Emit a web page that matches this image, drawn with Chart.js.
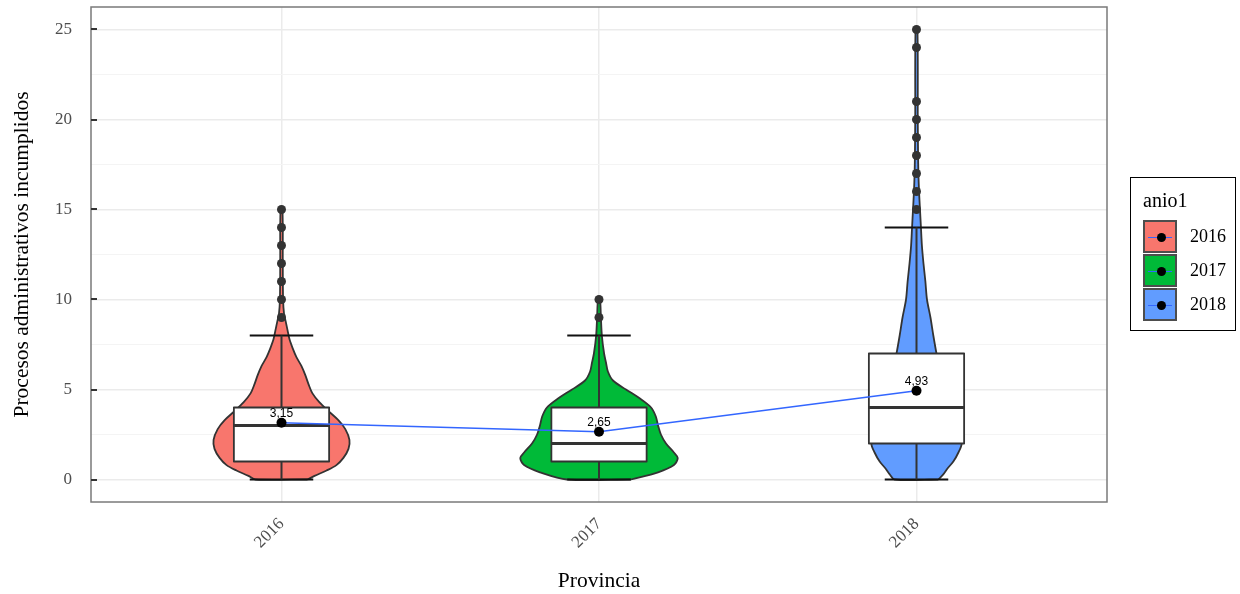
<!DOCTYPE html>
<html>
<head>
<meta charset="utf-8">
<script src="https://cdn.jsdelivr.net/npm/chart.js@4/dist/chart.umd.min.js"></script>
<style>
  html, body { margin: 0; padding: 0; background: #ffffff; }
  #wrap { position: relative; width: 1240px; height: 594px; overflow: hidden; }
  #chart { position: absolute; left: 0; top: 0; }
  #legend { position: absolute; left: 1130px; top: 177px; width: 106px; height: 154px;
            border: 1.5px solid #000; box-sizing: border-box; font-family: 'Liberation Serif', 'Times New Roman', serif; color: #000; }
  #legend .ttl { position: absolute; left: 12px; top: 11px; font-size: 20px; }
  #legend .row { position: absolute; left: 12px; height: 33px; width: 90px; }
  #legend .key { position: absolute; left: 0; top: 0; width: 34px; height: 33px; box-sizing: border-box; border: 2px solid #4d4d4d; }
  #legend .key .ln { position: absolute; left: 3px; right: 3px; top: 14.5px; height: 1.5px; background: #3366FF; }
  #legend .key .dt { position: absolute; left: 11.5px; top: 10.5px; width: 9px; height: 9px; border-radius: 50%; background: #000; }
  #legend .lab { position: absolute; left: 47px; top: 6px; font-size: 18px; }
</style>
</head>
<body>
<div id="wrap">
  <canvas id="chart" width="1240" height="594"></canvas>
  <div id="legend"></div>
</div>
<script>
// ---------------- data ----------------
const categories = ['2016', '2017', '2018'];
const q1 = [1, 1, 2];
const medians = [3, 2, 4];
const q3 = [4, 4, 7];
const whiskerLow = [0, 0, 0];
const whiskerHigh = [8, 8, 14];
const means = [3.15, 2.65, 4.93];
const meanLabels = ['3,15', '2,65', '4,93'];
const outliers2016 = [9, 10, 11, 12, 13, 14, 15];
const outliers2017 = [9, 10];
const outliers2018 = [15, 16, 17, 18, 19, 20, 21, 24, 25];
// violin outlines: value levels and half-widths (in category units)
const violinY2016 = [0, 0.2, 0.5, 0.8, 1.2, 1.7, 2.2, 2.8, 3.3, 3.8, 4.3, 4.8, 5.3, 5.8, 6.3, 6.8, 7.3, 7.8, 8.3, 8.8, 9.2, 10, 12, 15];
const violinW2016 = [0.082, 0.104, 0.142, 0.173, 0.195, 0.211, 0.214, 0.201, 0.179, 0.148, 0.119, 0.097, 0.085, 0.075, 0.063, 0.047, 0.035, 0.025, 0.019, 0.013, 0.008, 0.005, 0.004, 0.003];
const violinY2017 = [0, 0.4, 0.8, 1.2, 1.5, 2, 2.5, 3, 3.5, 4, 4.5, 5, 5.5, 6, 6.5, 7, 8, 9, 10];
const violinW2017 = [0.101, 0.186, 0.236, 0.248, 0.236, 0.211, 0.195, 0.186, 0.179, 0.164, 0.129, 0.085, 0.044, 0.028, 0.022, 0.016, 0.009, 0.006, 0.003];
const violinY2018 = [0, 0.3, 0.6, 1, 1.5, 2, 3, 4, 5, 6, 7, 8, 9, 10, 11, 12, 13, 14, 15, 16, 17, 18, 20, 25];
const violinW2018 = [0.069, 0.085, 0.097, 0.116, 0.132, 0.142, 0.126, 0.107, 0.088, 0.075, 0.063, 0.053, 0.044, 0.033, 0.028, 0.022, 0.017, 0.014, 0.011, 0.008, 0.006, 0.005, 0.004, 0.003];
const yTickValues = [0, 2.5, 5, 7.5, 10, 12.5, 15, 17.5, 20, 22.5, 25];

// ---------------- styles ----------------
const fillColors = ['#F8766D', '#00BA38', '#619CFF'];
const BOX_HALF = 0.15;
const CAP_HALF = 0.1;
const SERIF = "'Liberation Serif', 'Times New Roman', serif";

const outliers = [outliers2016, outliers2017, outliers2018];
const violinYs = [violinY2016, violinY2017, violinY2018];
const violinWs = [violinW2016, violinW2017, violinW2018];

const datasets = [];
categories.forEach((cat, i) => {
  const c = i + 1;
  // violin
  const ys = violinYs[i], ws = violinWs[i];
  const pts = [];
  ys.forEach((y, k) => pts.push({ x: c + ws[k], y }));
  for (let k = ys.length - 1; k >= 0; k--) pts.push({ x: c - ws[k], y: ys[k] });
  pts.push({ x: c + ws[0], y: ys[0] });
  datasets.push({ data: pts, borderColor: '#333333', borderWidth: 1.8, backgroundColor: fillColors[i],
    fill: 'shape', pointRadius: 0, tension: 0.3, order: 20 });
  // whisker line + caps
  datasets.push({ data: [{ x: c, y: whiskerLow[i] }, { x: c, y: whiskerHigh[i] }],
    borderColor: '#333333', borderWidth: 2, pointRadius: 0, fill: false, order: 15 });
  datasets.push({ data: [{ x: c - CAP_HALF, y: whiskerHigh[i] }, { x: c + CAP_HALF, y: whiskerHigh[i] }, { x: c, y: null },
    { x: c - CAP_HALF, y: whiskerLow[i] }, { x: c + CAP_HALF, y: whiskerLow[i] }],
    borderColor: '#111111', borderWidth: 2, pointRadius: 0, fill: false, order: 15 });
  // box
  datasets.push({ data: [{ x: c - BOX_HALF, y: q1[i] }, { x: c + BOX_HALF, y: q1[i] }, { x: c + BOX_HALF, y: q3[i] },
    { x: c - BOX_HALF, y: q3[i] }, { x: c - BOX_HALF, y: q1[i] }],
    borderColor: '#333333', borderWidth: 1.8, backgroundColor: '#ffffff', fill: 'shape', pointRadius: 0, order: 12 });
  // median
  datasets.push({ data: [{ x: c - BOX_HALF, y: medians[i] }, { x: c + BOX_HALF, y: medians[i] }],
    borderColor: '#333333', borderWidth: 3.2, pointRadius: 0, fill: false, order: 11 });
  // outliers
  datasets.push({ data: outliers[i].map(v => ({ x: c, y: v })), showLine: false,
    pointRadius: 4.5, pointBackgroundColor: '#333333', pointBorderWidth: 0, order: 10 });
});
// mean line and points
datasets.push({ data: means.map((m, i) => ({ x: i + 1, y: m })), borderColor: '#3366FF', borderWidth: 1.6,
  pointRadius: 0, fill: false, order: 5 });
datasets.push({ data: means.map((m, i) => ({ x: i + 1, y: m })), showLine: false,
  pointRadius: 5, pointBackgroundColor: '#000000', pointBorderWidth: 0, order: 4 });

const decorPlugin = {
  id: 'decor',
  afterDatasetsDraw(chart) {
    const { ctx, scales: { x, y } } = chart;
    ctx.save();
    ctx.font = "12px 'Liberation Sans', Arial, sans-serif";
    ctx.fillStyle = '#000';
    ctx.textAlign = 'center';
    ctx.textBaseline = 'middle';
    means.forEach((m, i) => {
      ctx.fillText(meanLabels[i], x.getPixelForValue(i + 1), y.getPixelForValue(m) - 9);
    });
    ctx.restore();
  },
  afterDraw(chart) {
    const { ctx, chartArea: a, scales: { y } } = chart;
    ctx.save();
    ctx.strokeStyle = '#7a7a7a';
    ctx.lineWidth = 1.5;
    ctx.strokeRect(a.left, a.top, a.right - a.left, a.bottom - a.top);
    ctx.strokeStyle = '#333333';
    ctx.lineWidth = 2;
    yTickValues.filter(v => v % 5 === 0).forEach(v => {
      const py = Math.round(y.getPixelForValue(v));
      ctx.beginPath(); ctx.moveTo(a.left, py); ctx.lineTo(a.left + 6, py); ctx.stroke();
    });
    ctx.restore();
  }
};

new Chart(document.getElementById('chart'), {
  type: 'line',
  data: { datasets },
  options: {
    responsive: false,
    animation: false,
    devicePixelRatio: 1,
    layout: { padding: { left: 0, right: 133, top: 7, bottom: 0 } },
    plugins: { legend: { display: false }, tooltip: { enabled: false } },
    elements: { line: { borderJoinStyle: 'round', borderCapStyle: 'butt' } },
    scales: {
      x: {
        type: 'linear', min: 0.4, max: 3.6,
        afterBuildTicks: s => { s.ticks = categories.map((c, i) => ({ value: i + 1 })); },
        afterFit: s => { s.height = 92; s.paddingLeft = 0; s.paddingRight = 0; },
        grid: { color: '#ebebeb', lineWidth: 1.5, drawTicks: false },
        border: { display: false },
        ticks: { callback: v => categories[v - 1], minRotation: 45, maxRotation: 45, padding: 12, labelOffset: 0,
          color: '#4d4d4d', font: { family: SERIF, size: 17 } },
        title: { display: true, text: 'Provincia', color: '#000', font: { family: SERIF, size: 21.5 }, padding: { top: 0, bottom: 0 } }
      },
      y: {
        type: 'linear', min: -1.25, max: 26.25,
        afterBuildTicks: s => { s.ticks = yTickValues.map(v => ({ value: v })); },
        afterFit: s => { s.width = 91; s.paddingTop = 0; s.paddingBottom = 0; },
        grid: { color: c => (c.tick && c.tick.value % 5 === 0 ? '#ebebeb' : '#f4f4f4'), lineWidth: c => (c.tick && c.tick.value % 5 === 0 ? 1.5 : 1), drawTicks: false },
        border: { display: false },
        ticks: { callback: v => (v % 5 === 0 ? String(v) : ''), padding: 19, color: '#4d4d4d', font: { family: SERIF, size: 17 } },
        title: { display: true, text: 'Procesos administrativos incumplidos', color: '#000', font: { family: SERIF, size: 21.5 }, padding: { top: 9, bottom: 0 } }
      }
    }
  },
  plugins: [decorPlugin]
});

// legend (HTML)
const legend = document.getElementById('legend');
legend.innerHTML = '<div class="ttl">anio1</div>' + categories.map((c, i) =>
  `<div class="row" style="top:${42 + i * 34}px"><div class="key" style="background:${fillColors[i]}"><div class="ln"></div><div class="dt"></div></div><div class="lab">${c}</div></div>`
).join('');
</script>
</body>
</html>
